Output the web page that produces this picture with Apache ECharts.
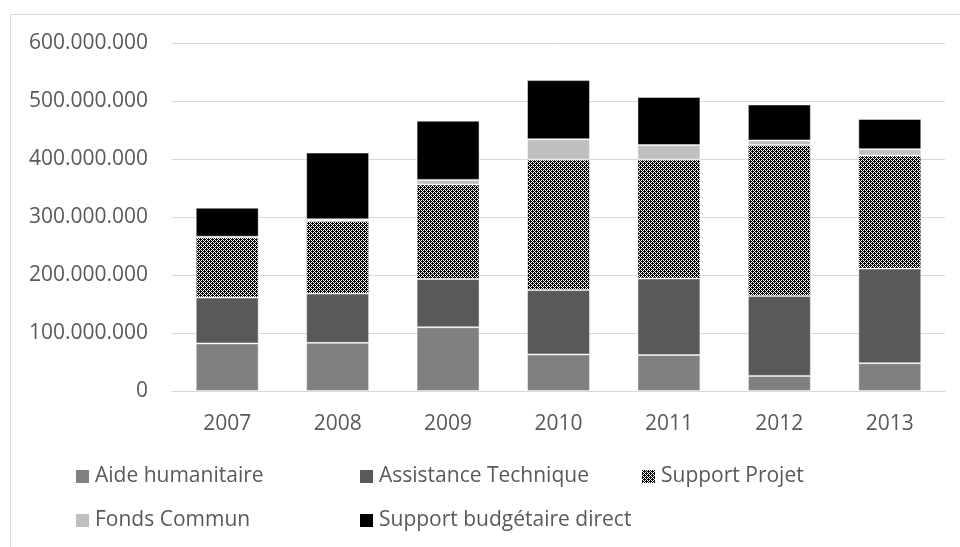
<!DOCTYPE html>
<html>
<head>
<meta charset="utf-8">
<script src="https://cdn.jsdelivr.net/npm/echarts@6/dist/echarts.min.js"></script>
<style>
html,body{margin:0;padding:0;background:#fff;}
#chart{width:960px;height:547px;}
</style>
</head>
<body>
<div id="chart"></div>
<script>
const categories = ['2007','2008','2009','2010','2011','2012','2013'];
const aideHumanitaire = [82000000, 83000000, 110000000, 63000000, 62000000, 26000000, 48000000];
const assistanceTechnique = [79000000, 85000000, 83000000, 111000000, 132000000, 138000000, 163000000];
const supportProjet = [104000000, 125000000, 163000000, 225000000, 205000000, 260000000, 195000000];
const fondsCommun = [1000000, 3000000, 8000000, 35000000, 25000000, 8000000, 11000000];
const supportBudgetaire = [50000000, 115000000, 102000000, 102000000, 83000000, 62000000, 52000000];
const seriesNames = ['Aide humanitaire','Assistance Technique','Support Projet','Fonds Commun','Support budgétaire direct'];
const yTicks = [0, 100000000, 200000000, 300000000, 400000000, 500000000, 600000000];

function makePattern(){
  const rows = [
    'X.X.X.X.',
    '.XXX.XXX',
    'X.X.X.X.',
    'XX.XXX.X'
  ];
  const c = document.createElement('canvas');
  c.width = 8; c.height = 4;
  const ctx = c.getContext('2d');
  for (let y = 0; y < rows.length; y++) {
    for (let x = 0; x < 8; x++) {
      ctx.fillStyle = rows[y][x] === 'X' ? '#000000' : '#ffffff';
      ctx.fillRect(x, y, 1, 1);
    }
  }
  return {image: c, repeat: 'repeat'};
}
const pattern = makePattern();

function fmt(v){
  return String(v).replace(/\B(?=(\d{3})+(?!\d))/g, '.');
}

const colors = ['#808080', '#595959', pattern, '#bfbfbf', '#000000'];
const dataSets = [aideHumanitaire, assistanceTechnique, supportProjet, fondsCommun, supportBudgetaire];

const font = '"Open Sans", "Noto Sans", sans-serif';
const textColor = '#595959';

const legendPos = [
  {left: 76, top: 466},
  {left: 360, top: 466},
  {left: 642, top: 466},
  {left: 76, top: 510},
  {left: 360, top: 510}
];

const chart = echarts.init(document.getElementById('chart'), null, {renderer: 'canvas'});
chart.setOption({
  animation: false,
  backgroundColor: '#ffffff',
  textStyle: {fontFamily: font},
  graphic: [{
    type: 'rect',
    shape: {x: 10.5, y: 14.5, width: 1000, height: 600},
    style: {fill: 'none', stroke: '#d9d9d9', lineWidth: 1},
    silent: true,
    z: -10
  }],
  grid: {left: 172, right: 15, top: 43, bottom: 156, containLabel: false},
  legend: seriesNames.map((n, i) => ({
    data: [n],
    left: legendPos[i].left,
    top: legendPos[i].top,
    padding: 0,
    icon: 'rect',
    itemWidth: 13,
    itemHeight: 13,
    itemStyle: {borderWidth: 0},
    selectedMode: false,
    textStyle: {fontFamily: font, fontSize: 21, color: textColor, padding: [0, 0, 0, 1]}
  })),
  xAxis: {
    type: 'category',
    data: categories,
    axisLine: {lineStyle: {color: '#d9d9d9', width: 1}},
    axisTick: {show: false},
    axisLabel: {fontFamily: font, fontSize: 21, color: textColor, margin: 23}
  },
  yAxis: {
    type: 'value',
    min: yTicks[0],
    max: yTicks[yTicks.length - 1],
    interval: yTicks[1] - yTicks[0],
    axisLine: {show: false},
    axisTick: {show: false},
    splitLine: {lineStyle: {color: '#d9d9d9', width: 1}},
    axisLabel: {fontFamily: font, fontSize: 21, color: textColor, margin: 24, formatter: fmt}
  },
  series: seriesNames.map((n, i) => ({
    name: n,
    type: 'bar',
    stack: 'total',
    barWidth: '57%',
    data: dataSets[i],
    itemStyle: {color: colors[i], borderColor: 'rgba(255,255,255,0.45)', borderWidth: 1}
  }))
});
</script>
</body>
</html>
